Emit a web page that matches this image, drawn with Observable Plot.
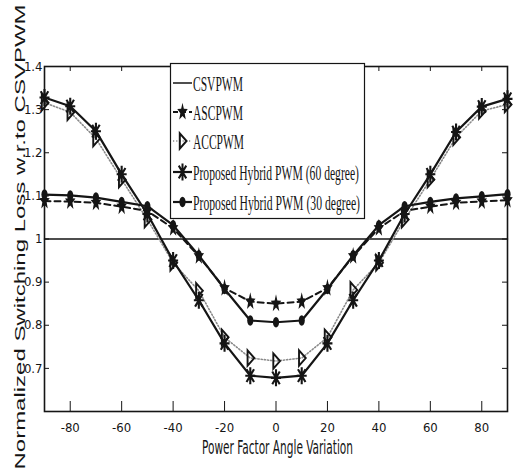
<!DOCTYPE html>
<html>
<head>
<meta charset="utf-8">
<script src="https://cdn.jsdelivr.net/npm/d3@7"></script>
<script src="https://cdn.jsdelivr.net/npm/@observablehq/plot@0.6"></script>
<style>
  html, body { margin: 0; padding: 0; background: #fff; }
  #chart { width: 517px; height: 474px; }
</style>
</head>
<body>
<div id="chart"></div>
<script>
// ---- data ----
const angles = [-90,-80,-70,-60,-50,-40,-30,-20,-10,0,10,20,30,40,50,60,70,80,90];
const csvpwm = [1,1,1,1,1,1,1,1,1,1,1,1,1,1,1,1,1,1,1];
const ascpwm = [1.088,1.087,1.084,1.075,1.065,1.025,0.960,0.886,0.855,0.850,0.855,0.886,0.960,1.025,1.065,1.075,1.084,1.087,1.090];
const accpwm = [1.316,1.294,1.233,1.138,1.045,0.945,0.880,0.772,0.724,0.717,0.724,0.772,0.882,0.945,1.045,1.138,1.236,1.297,1.312];
const hybrid60 = [1.328,1.308,1.250,1.150,1.058,0.950,0.858,0.758,0.683,0.678,0.683,0.758,0.858,0.950,1.058,1.150,1.248,1.307,1.325];
const hybrid30 = [1.103,1.101,1.096,1.086,1.076,1.032,0.962,0.884,0.811,0.807,0.811,0.884,0.962,1.032,1.076,1.086,1.094,1.099,1.104];
const seriesNames = ["CSVPWM","ASCPWM","ACCPWM","Proposed Hybrid PWM (60 degree)","Proposed Hybrid PWM (30 degree)"];
const xTickValues = [-80,-60,-40,-20,0,20,40,60,80];
const xTickLabels = ["-80","-60","-40","-20","0","20","40","60","80"];
const yTickValues = [0.7,0.8,0.9,1.0,1.1,1.2,1.3,1.4];
const yTickLabels = ["0.7","0.8","0.9","1","1.1","1.2","1.3","1.4"];
const xTitle = "Power Factor Angle Variation";
const yTitle = "Normalized Switching Loss w.r.to CSVPWM";

const rows = (vals) => angles.map((a, i) => ({a, v: vals[i]}));

// ---- marker symbols (vertically elongated like the source) ----
const SY = 1.7;
const starSym = {draw(ctx, size) {
  const R = Math.sqrt(size / Math.PI);
  for (let i = 0; i < 10; i++) {
    const r = i % 2 ? R * 0.42 : R;
    const t = -Math.PI / 2 + i * Math.PI / 5;
    const px = r * Math.cos(t), py = r * Math.sin(t) * SY;
    if (i) ctx.lineTo(px, py); else ctx.moveTo(px, py);
  }
  ctx.closePath();
}};
const asteriskSym = {draw(ctx, size) {
  const R = Math.sqrt(size / Math.PI);
  ctx.moveTo(-R, 0); ctx.lineTo(R, 0);
  ctx.moveTo(0, -R * SY); ctx.lineTo(0, R * SY);
  const d = R * 0.75;
  ctx.moveTo(-d, -d * SY); ctx.lineTo(d, d * SY);
  ctx.moveTo(-d, d * SY); ctx.lineTo(d, -d * SY);
}};
const triRightSym = {draw(ctx, size) {
  const R = Math.sqrt(size / Math.PI);
  ctx.moveTo(-R * 0.6, -R * SY);
  ctx.lineTo(R * 0.9, 0);
  ctx.lineTo(-R * 0.6, R * SY);
  ctx.closePath();
}};
const ellipseSym = {draw(ctx, size) {
  const rx = Math.sqrt(size / Math.PI), ry = rx * SY, k = 0.5523;
  ctx.moveTo(rx, 0);
  ctx.bezierCurveTo(rx, ry * k, rx * k, ry, 0, ry);
  ctx.bezierCurveTo(-rx * k, ry, -rx, ry * k, -rx, 0);
  ctx.bezierCurveTo(-rx, -ry * k, -rx * k, -ry, 0, -ry);
  ctx.bezierCurveTo(rx * k, -ry, rx, -ry * k, rx, 0);
  ctx.closePath();
}};

const INK = "#151515";
const W = 517, H = 474, ML = 44, MR = 10, MT = 66, MB = 63;
const FW = W - ML - MR, FH = H - MT - MB;
const narrow = "'Liberation Sans Narrow','Arial Narrow','DejaVu Sans Condensed','Liberation Sans',sans-serif";

const chart = Plot.plot({
  width: W, height: H,
  marginLeft: ML, marginRight: MR, marginTop: MT, marginBottom: MB,
  x: {domain: [-90, 90]},
  y: {domain: [0.6, 1.4]},
  style: {background: "#fff", color: INK, fontFamily: narrow},
  marks: [
    Plot.axisX({ticks: xTickValues, tickSize: 0, tickPadding: 11, fontSize: 13, label: null,
      tickFormat: d => xTickLabels[xTickValues.indexOf(d)]}),
    Plot.axisY({ticks: yTickValues, tickSize: 0, tickPadding: 2, fontSize: 13, label: null,
      tickFormat: d => yTickLabels[yTickValues.indexOf(d)]}),
    Plot.tickX(xTickValues, {x: d => d, insetTop: FH - 10, stroke: INK, strokeWidth: 1}),
    Plot.tickX(xTickValues, {x: d => d, insetBottom: FH - 5, stroke: INK, strokeWidth: 1}),
    Plot.tickY(yTickValues, {y: d => d, insetRight: FW - 5, stroke: INK, strokeWidth: 1}),
    Plot.tickY(yTickValues, {y: d => d, insetLeft: FW - 5, stroke: INK, strokeWidth: 1}),
    Plot.line(rows(csvpwm), {x: "a", y: "v", stroke: INK, strokeWidth: 1.5}),
    Plot.line(rows(accpwm), {x: "a", y: "v", stroke: "#8a8a8a", strokeWidth: 1.6, strokeDasharray: "1.2,2"}),
    Plot.line(rows(ascpwm), {x: "a", y: "v", stroke: INK, strokeWidth: 2, strokeDasharray: "6,4"}),
    Plot.line(rows(hybrid60), {x: "a", y: "v", stroke: INK, strokeWidth: 2.2}),
    Plot.line(rows(hybrid30), {x: "a", y: "v", stroke: INK, strokeWidth: 2.2}),
    Plot.dot(rows(accpwm), {x: "a", y: "v", symbol: triRightSym, r: 4.5, fill: "none", stroke: INK, strokeWidth: 1.9}),
    Plot.dot(rows(ascpwm), {x: "a", y: "v", symbol: starSym, r: 5.5, fill: INK, stroke: "none"}),
    Plot.dot(rows(hybrid60), {x: "a", y: "v", symbol: asteriskSym, r: 5, fill: "none", stroke: INK, strokeWidth: 2.1}),
    Plot.dot(rows(hybrid30), {x: "a", y: "v", symbol: ellipseSym, r: 3.1, fill: INK, stroke: "none"}),
    Plot.frame({stroke: INK, strokeWidth: 1.6})
  ]
});
document.getElementById("chart").appendChild(chart);

// ---- titles & legend ----
const svg = d3.select(chart);
svg.append("text")
  .attr("x", 277.5).attr("y", 454)
  .attr("text-anchor", "middle")
  .attr("font-family", narrow).attr("font-size", 19)
  .attr("textLength", 151).attr("lengthAdjust", "spacingAndGlyphs")
  .attr("fill", INK).text(xTitle);
svg.append("text")
  .attr("transform", "translate(25,237) rotate(-90)")
  .attr("text-anchor", "middle")
  .attr("font-family", "'Liberation Sans',Arial,sans-serif").attr("font-size", 14)
  .attr("textLength", 465).attr("lengthAdjust", "spacingAndGlyphs")
  .attr("fill", INK).text(yTitle);

const lg = svg.append("g").attr("text-anchor", "start");
lg.append("rect").attr("x", 170.5).attr("y", 63.5).attr("width", 194).attr("height", 155)
  .attr("fill", "#fff").attr("stroke", INK).attr("stroke-width", 1.2);
const legendYs = [83, 112, 141, 172, 202];
const legendWidths = [50, 50, 51, 166, 167];
const legendStyles = [
  {stroke: INK, w: 1.5, dash: null, sym: null},
  {stroke: INK, w: 2, dash: "5,3", sym: starSym, r: 5.5, fill: INK, sstroke: "none"},
  {stroke: "#8a8a8a", w: 1.6, dash: "1.2,2", sym: triRightSym, r: 4.5, fill: "none", sstroke: INK},
  {stroke: INK, w: 2.2, dash: null, sym: asteriskSym, r: 5, fill: "none", sstroke: INK},
  {stroke: INK, w: 2.2, dash: null, sym: ellipseSym, r: 3.1, fill: INK, sstroke: "none"}
];
seriesNames.forEach((name, i) => {
  const y = legendYs[i], st = legendStyles[i];
  lg.append("line").attr("x1", 173).attr("x2", 192).attr("y1", y).attr("y2", y)
    .attr("stroke", st.stroke).attr("stroke-width", st.w).attr("stroke-dasharray", st.dash);
  if (st.sym) {
    const p = d3.path();
    st.sym.draw(p, st.r * st.r * Math.PI);
    lg.append("path").attr("d", p.toString()).attr("transform", `translate(182.5,${y})`)
      .attr("fill", st.fill).attr("stroke", st.sstroke).attr("stroke-width", 2);
  }
  lg.append("text").attr("x", 193).attr("y", y + 7.5)
    .attr("text-anchor", "start")
    .attr("font-family", "'Liberation Serif','Times New Roman',serif").attr("font-size", 20.5)
    .attr("textLength", legendWidths[i]).attr("lengthAdjust", "spacingAndGlyphs")
    .attr("fill", INK).text(name);
});
</script>
</body>
</html>
